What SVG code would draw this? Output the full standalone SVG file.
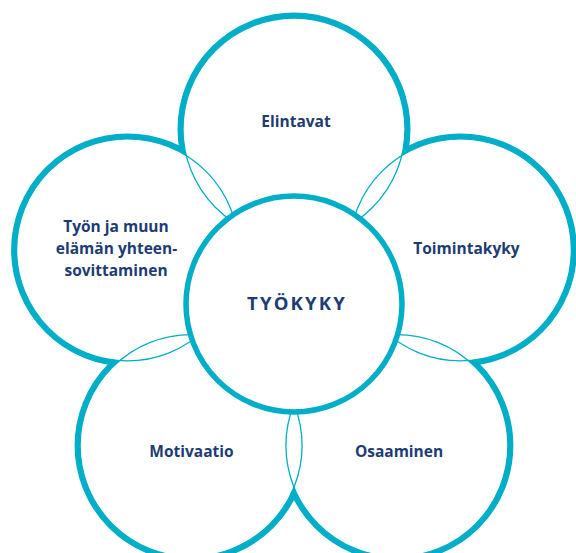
<svg xmlns="http://www.w3.org/2000/svg" width="576" height="553" viewBox="0 0 576 553">
<style>
.thick{fill:none;stroke:#00aec8;stroke-width:11}
.fillw{fill:#fff;stroke:none}
.thin{fill:none;stroke:#00aec8;stroke-width:1.3}
.center{fill:#fff;stroke:#00aec8;stroke-width:5.5}
text{font-family:"Open Sans","Noto Sans","Liberation Sans",sans-serif;font-weight:700;fill:#1d3c74;text-anchor:middle}
.lbl{font-size:15.5px}
.main{font-size:18.5px;font-weight:700;letter-spacing:2.2px}
</style>
<rect width="576" height="553" fill="#fff"/>
<defs>
<circle id="c1" cx="294" cy="129" r="111"/>
<circle id="c2" cx="460.4" cy="249.9" r="111"/>
<circle id="c3" cx="396.9" cy="445.6" r="111"/>
<circle id="c4" cx="191.1" cy="445.6" r="111"/>
<circle id="c5" cx="127.6" cy="249.9" r="111"/>
</defs>
<g id="connectors">
<g class="thick">
<use href="#c1"/><use href="#c2"/><use href="#c3"/><use href="#c4"/><use href="#c5"/>
</g>
<g class="fillw">
<use href="#c1"/><use href="#c2"/><use href="#c3"/><use href="#c4"/><use href="#c5"/>
</g>
<g class="thin">
<use href="#c1"/><use href="#c2"/><use href="#c3"/><use href="#c4"/><use href="#c5"/>
</g>
</g>
<g id="elintavat"><text class="lbl" x="296" y="127">Elintavat</text></g>
<g id="toimintakyky"><text class="lbl" x="466.5" y="254">Toimintakyky</text></g>
<g id="osaaminen"><text class="lbl" x="399" y="457">Osaaminen</text></g>
<g id="motivaatio"><text class="lbl" x="191.5" y="457">Motivaatio</text></g>
<g id="tyon-ja-muun">
<text class="lbl" x="116" y="232">Työn ja muun</text>
<text class="lbl" x="116.5" y="254">elämän yhteen-</text>
<text class="lbl" x="116" y="276">sovittaminen</text>
</g>
<g id="tyokyky">
<circle class="center" cx="294" cy="304" r="108"/>
<text class="main" x="297" y="310">TYÖKYKY</text>
</g>
</svg>
